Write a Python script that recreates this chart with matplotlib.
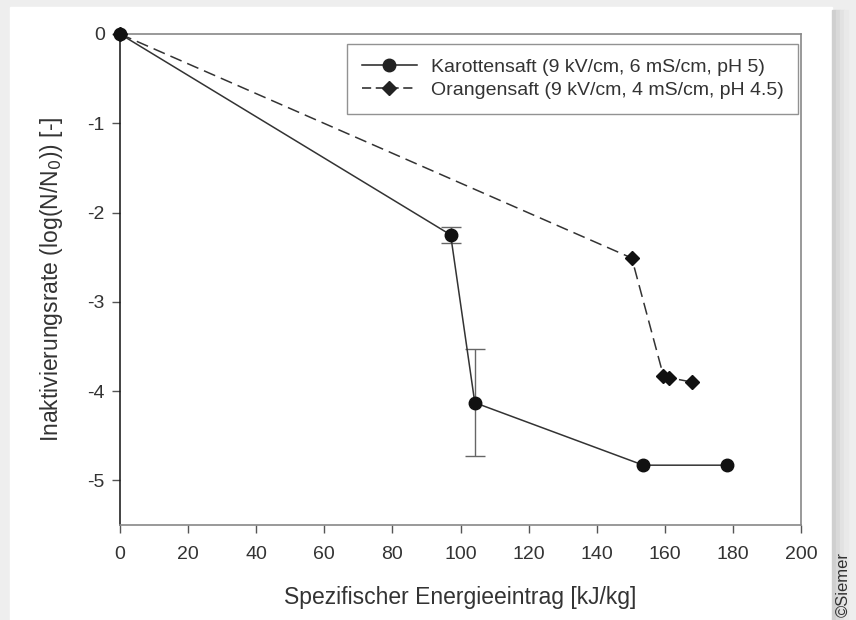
import numpy as np
import matplotlib
matplotlib.use('Agg')
import matplotlib.pyplot as plt
from matplotlib.patches import Rectangle

plt.rcParams['font.family'] = ['Liberation Sans', 'DejaVu Sans']
plt.rcParams['axes.unicode_minus'] = False

# Karottensaft (9 kV/cm, 6 mS/cm, pH 5)
karotte_x = [0, 97.1, 104.2, 153.7, 178.2]
karotte_y = [0, -2.25, -4.13, -4.83, -4.83]
karotte_err = [0, 0.09, 0.60, 0, 0]

# Orangensaft (9 kV/cm, 4 mS/cm, pH 4.5)
orange_x = [0, 150.3, 159.6, 161.3, 168.1]
orange_y = [0, -2.51, -3.83, -3.85, -3.90]

x_ticks = [0, 20, 40, 60, 80, 100, 120, 140, 160, 180, 200]
y_ticks = [0, -1, -2, -3, -4, -5]

txt = '#333333'

fig = plt.figure(figsize=(8.56, 6.2), dpi=100)
fig.patch.set_facecolor('white')

# grey card border / shadow
fig.patches.append(Rectangle((0, 0), 1, 1, transform=fig.transFigure, color='#eeeeee', zorder=-3))
fig.patches.append(Rectangle((10/856, 0), (832-10)/856, (620-7)/620, transform=fig.transFigure,
                             color='white', zorder=-2))
for i, c in enumerate(['#cfcfcf', '#d9d9d9', '#e2e2e2', '#e9e9e9']):
    fig.patches.append(Rectangle((832/856 + i*4/856, 0), 4/856, (620-10)/620, transform=fig.transFigure,
                                 color=c, zorder=-2))

ax = fig.add_axes([120/856, 1-525/620, (801-120)/856, (525-34)/620])

# only points that have an error bar
ex = [x for x, e in zip(karotte_x, karotte_err) if e > 0]
ey = [y for y, e in zip(karotte_y, karotte_err) if e > 0]
ee = [e for e in karotte_err if e > 0]

ax.plot(karotte_x, karotte_y, '-', color='#333333', lw=1.1, zorder=2)
ax.errorbar(ex, ey, yerr=ee, fmt='none', ecolor='#666666',
            elinewidth=1.0, capsize=7, capthick=1.0, zorder=1)
ax.plot(karotte_x, karotte_y, 'o', color='#111111', ms=9, zorder=3, clip_on=False)
ax.plot(orange_x, orange_y, '--', color='#333333', lw=1.1, dashes=(8, 4), zorder=2)
ax.plot(orange_x, orange_y, 'D', color='#111111', ms=7.5, zorder=3, clip_on=False)

# legend handles: line with marker in middle
h1, = ax.plot([], [], '-o', color='#222222', lw=1.1, ms=9)
h2, = ax.plot([], [], '--D', color='#222222', lw=1.1, ms=7.5, dashes=(6, 3))
leg = ax.legend([h1, h2], ['Karottensaft (9 kV/cm, 6 mS/cm, pH 5)',
                           'Orangensaft (9 kV/cm, 4 mS/cm, pH 4.5)'],
                loc='upper right', bbox_to_anchor=(0.9956, 0.98), fontsize=14,
                frameon=True, fancybox=False, edgecolor='#777777', handlelength=2.85,
                borderpad=0.75, labelspacing=0.28, handletextpad=0.7, borderaxespad=0)
leg.get_frame().set_linewidth(1.0)
for t in leg.get_texts():
    t.set_color(txt)

ax.set_xlim(0, 200)
ax.set_ylim(-5.5, 0)
ax.set_xticks(x_ticks)
ax.set_yticks(y_ticks)
ax.tick_params(direction='out', length=6, width=1.0, labelsize=14, colors='#555555', labelcolor=txt)
ax.tick_params(axis='y', pad=5)
ax.tick_params(axis='x', pad=9)

for side in ['top', 'right', 'bottom']:
    ax.spines[side].set_color('#888888')
    ax.spines[side].set_linewidth(1.2)
ax.spines['left'].set_color('#111111')
ax.spines['left'].set_linewidth(1.1)

ax.set_xlabel('Spezifischer Energieeintrag [kJ/kg]', fontsize=16.5, color=txt, labelpad=17)
ax.set_ylabel('Inaktivierungsrate (log(N/N$_0$)) [-]', fontsize=16.5, color=txt, labelpad=16)

fig.text(843/856, 1-617/620, '©Siemer', rotation=90, fontsize=12, color='#333333',
         ha='center', va='bottom')

fig.savefig('out.png', dpi=100)
